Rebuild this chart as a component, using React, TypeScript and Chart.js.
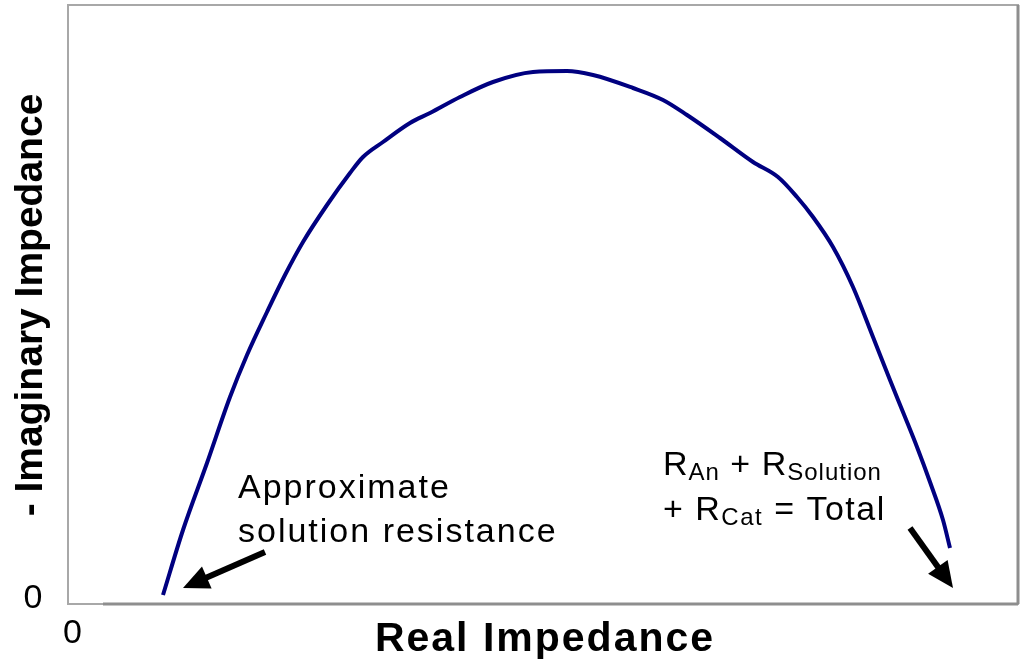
import React, { useEffect, useRef } from "react";
import { Chart, registerables } from "chart.js";

Chart.register(...registerables);

// Nyquist-style curve (arbitrary units)
const realZ = [95, 115, 139, 162, 179, 199, 217, 235, 259, 282, 295, 315, 342, 362, 392, 425, 465, 499, 525, 565, 595, 619, 652, 685, 710, 729, 745, 765, 785, 805, 822, 837, 849, 862, 875, 882];
const imagZ = [9, 74, 141, 207, 249, 292, 329, 362, 399, 431, 447, 462, 481, 491, 507, 522, 532, 533, 529, 516, 504, 489, 466, 442, 427, 407, 387, 357, 317, 267, 224, 187, 157, 122, 84, 56];

const X_MAX = 950;
const Y_MAX = 599;

const xTitle = "Real Impedance";
const yTitle = "- Imaginary Impedance";
const tickLabels = ["0"];

// annotation arrows in data units: [fromX, fromY, toX, toY]
const arrowLeft = [197, 52, 115, 16];
const arrowRight = [842, 76, 885, 16];

const noteLeftLines = ["Approximate", "solution resistance"];
const noteLeftAnchor = [170, 106, 62]; // x, baseline y line 1, line 2
const noteRightAnchor = [595, 129, 84];

const FONT = "'Liberation Sans', Arial, Helvetica, sans-serif";

type Run = { text: string; size: number; dy?: number; weight?: string };

function drawRuns(ctx: CanvasRenderingContext2D, runs: Run[], x: number, y: number, spacing: number) {
  let cx = x;
  for (const r of runs) {
    ctx.font = `${r.weight || "normal"} ${r.size}px ${FONT}`;
    (ctx as any).letterSpacing = spacing + "px";
    ctx.fillText(r.text, cx, y + (r.dy || 0));
    cx += ctx.measureText(r.text).width;
  }
}

function drawArrow(ctx: CanvasRenderingContext2D, x1: number, y1: number, x2: number, y2: number) {
  const ang = Math.atan2(y2 - y1, x2 - x1);
  const headLen = 26;
  const headW = 12;
  const bx = x2 - headLen * Math.cos(ang);
  const by = y2 - headLen * Math.sin(ang);
  ctx.strokeStyle = "#000";
  ctx.fillStyle = "#000";
  ctx.lineWidth = 6;
  ctx.lineCap = "butt";
  ctx.beginPath();
  ctx.moveTo(x1, y1);
  ctx.lineTo(bx + 2 * Math.cos(ang), by + 2 * Math.sin(ang));
  ctx.stroke();
  ctx.beginPath();
  ctx.moveTo(x2, y2);
  ctx.lineTo(bx + headW * Math.sin(ang), by - headW * Math.cos(ang));
  ctx.lineTo(bx - headW * Math.sin(ang), by + headW * Math.cos(ang));
  ctx.closePath();
  ctx.fill();
}

const decorPlugin = {
  id: "decor",
  beforeDatasetsDraw(chart: any) {
    const { ctx, chartArea } = chart;
    const { left, top, right, bottom } = chartArea;
    ctx.save();
    ctx.strokeStyle = "#a8a8a8";
    ctx.lineWidth = 2;
    ctx.strokeRect(left, top, right - left, bottom - top);
    ctx.strokeStyle = "#8e8e8e";
    ctx.lineWidth = 3;
    ctx.beginPath();
    ctx.moveTo(right, top);
    ctx.lineTo(right, bottom);
    ctx.moveTo(left + 35, bottom);
    ctx.lineTo(right, bottom);
    ctx.stroke();
    ctx.restore();
  },
  afterDatasetsDraw(chart: any) {
    const { ctx, chartArea } = chart;
    const xs = chart.scales.x;
    const ys = chart.scales.y;
    ctx.save();
    ctx.fillStyle = "#000";

    // tick labels
    ctx.textAlign = "center";
    ctx.textBaseline = "alphabetic";
    ctx.font = `normal 34px ${FONT}`;
    (ctx as any).letterSpacing = "0px";
    ctx.fillText(tickLabels[0], chartArea.left - 35, ys.getPixelForValue(0) + 4);
    ctx.fillText(tickLabels[0], xs.getPixelForValue(0) + 4.5, chartArea.bottom + 39);

    // x title
    ctx.font = `bold 41px ${FONT}`;
    (ctx as any).letterSpacing = "2px";
    ctx.fillText(xTitle, 545, chartArea.bottom + 47);

    // y title
    ctx.save();
    ctx.translate(chartArea.left - 26, 305);
    ctx.rotate(-Math.PI / 2);
    ctx.font = `bold 39px ${FONT}`;
    (ctx as any).letterSpacing = "0px";
    ctx.textBaseline = "alphabetic";
    ctx.fillText(yTitle, 0, 0);
    ctx.restore();

    // left note
    ctx.textAlign = "left";
    ctx.font = `normal 34px ${FONT}`;
    (ctx as any).letterSpacing = "2px";
    const lx = xs.getPixelForValue(noteLeftAnchor[0]);
    ctx.fillText(noteLeftLines[0], lx, ys.getPixelForValue(noteLeftAnchor[1]));
    ctx.fillText(noteLeftLines[1], lx, ys.getPixelForValue(noteLeftAnchor[2]));

    // right note with subscripts
    const rx = xs.getPixelForValue(noteRightAnchor[0]);
    drawRuns(ctx, [
      { text: "R", size: 34 },
      { text: "An", size: 24, dy: 5 },
      { text: " + R", size: 34 },
      { text: "Solution", size: 24, dy: 5 },
    ], rx, ys.getPixelForValue(noteRightAnchor[1]), 1);
    drawRuns(ctx, [
      { text: "+ R", size: 34 },
      { text: "Cat", size: 24, dy: 5 },
      { text: " = Total", size: 34 },
    ], rx, ys.getPixelForValue(noteRightAnchor[2]), 1.5);

    // arrows
    drawArrow(ctx, xs.getPixelForValue(arrowLeft[0]), ys.getPixelForValue(arrowLeft[1]), xs.getPixelForValue(arrowLeft[2]), ys.getPixelForValue(arrowLeft[3]));
    drawArrow(ctx, xs.getPixelForValue(arrowRight[0]), ys.getPixelForValue(arrowRight[1]), xs.getPixelForValue(arrowRight[2]), ys.getPixelForValue(arrowRight[3]));
    ctx.restore();
  },
};

export default function App() {
  const ref = useRef<HTMLCanvasElement | null>(null);
  useEffect(() => {
    if (!ref.current) return;
    const chart = new Chart(ref.current, {
      type: "line",
      data: {
        datasets: [
          {
            data: realZ.map((x, i) => ({ x, y: imagZ[i] })),
            borderColor: "#000080",
            borderWidth: 4,
            pointRadius: 0,
            cubicInterpolationMode: "monotone",
            fill: false,
          },
        ],
      },
      options: {
        animation: false,
        responsive: false,
        maintainAspectRatio: false,
        layout: { padding: { left: 68, top: 5, right: 6, bottom: 59 } },
        plugins: { legend: { display: false }, tooltip: { enabled: false } },
        scales: {
          x: { type: "linear", min: 0, max: X_MAX, display: false },
          y: { type: "linear", min: 0, max: Y_MAX, display: false },
        },
      },
      plugins: [decorPlugin],
    });
    return () => chart.destroy();
  }, []);
  return (
    <div style={{ position: "fixed", left: 0, top: 0, width: 1024, height: 663, background: "#fff" }}>
      <canvas ref={ref} width={1024} height={663} style={{ display: "block" }} />
    </div>
  );
}
